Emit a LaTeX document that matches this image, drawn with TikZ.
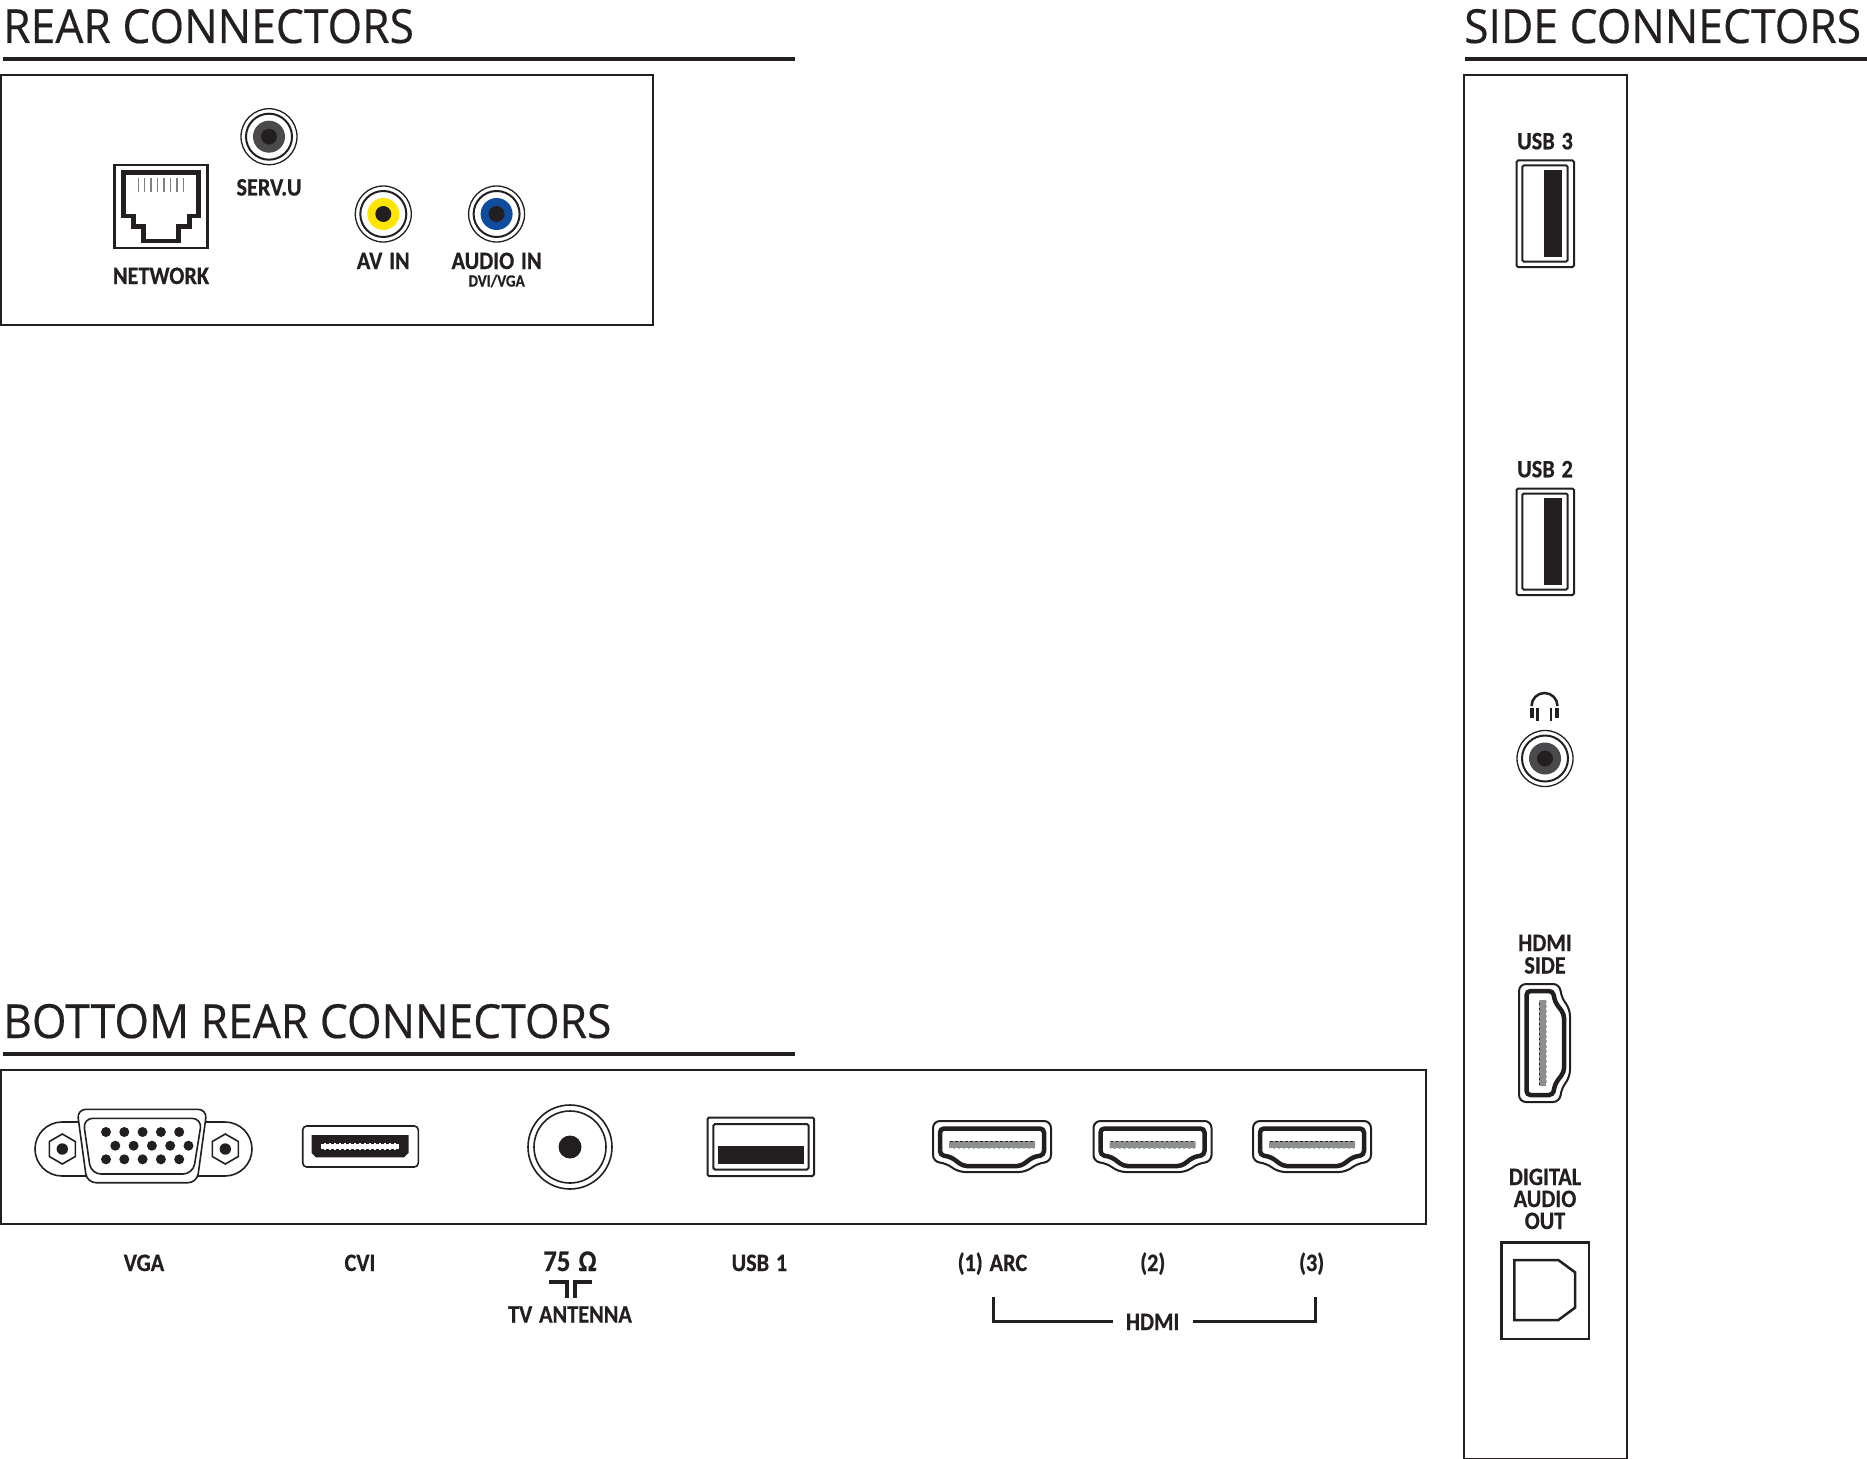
\documentclass[tikz,border=0pt]{standalone}
\usepackage{fontspec}
\setmainfont{Liberation Sans}
\newfontfamily\headfont[FakeStretch=0.945,FakeBold=0.4]{Open Sans}
\newfontfamily\labelfont[FakeStretch=0.89,WordSpace=1.35,FakeBold=0.6]{Carlito}
\definecolor{conblack}{HTML}{231F20}
\definecolor{jackgrey}{HTML}{4A4A4C}
\definecolor{jackyellow}{HTML}{FFE600}
\definecolor{jackblue}{HTML}{0F4C9E}
\definecolor{stripgrey}{HTML}{8C8F8F}
\tikzset{
    heading/.style={font=\headfont\fontsize{47}{47}\selectfont, text=conblack, inner sep=0pt, anchor=base west},
    conlabel/.style={font=\labelfont\bfseries\fontsize{25}{25}\selectfont, text=conblack, inner sep=0pt, anchor=base},
    sublabel/.style={font=\labelfont\bfseries\fontsize{17}{17}\selectfont, text=conblack, inner sep=0pt, anchor=base},
    panel/.style={draw=conblack, line width=2pt},
    thinline/.style={draw=conblack, line width=1.6pt},
    thickline/.style={draw=conblack, line width=3.5pt},
    hdmiport/.pic={
        \draw[thinline, line width=2pt, rounded corners=7pt] (-59,0) -- (59,0) -- (59,41) -- (46,42) -- (34,51) -- (-34,51) -- (-46,42) -- (-59,41) -- cycle;
        \draw[thickline, line width=4.5pt, rounded corners=4pt] (-52,7.5) -- (52,7.5) -- (52,34) -- (41,36) -- (29,45) -- (-29,45) -- (-41,36) -- (-52,34) -- cycle;
        \fill[stripgrey, rounded corners=1pt] (-43,20) rectangle (43,27.7);
        \draw[conblack, line width=1pt, dash pattern=on 2.5pt off 2.5pt] (-42,20) -- (42,20);
        \draw[white, line width=1.2pt, dash pattern=on 2.5pt off 2.5pt] (-42,27.7) -- (42,27.7);
    }
}
\begin{document}
\begin{tikzpicture}[x=1pt, y=-1pt]
    \useasboundingbox (0,0) rectangle (1867,1458);

    % headings
    \node[heading] (rearhead) at (3,43) {REAR CONNECTORS};
    \node[heading] (sidehead) at (1464,43) {SIDE CONNECTORS};
    \node[heading] (bottomhead) at (3,1038) {BOTTOM REAR CONNECTORS};
    \draw[thickline, line width=4pt] (3,59) -- (795,59);
    \draw[thickline, line width=4pt] (1465,59) -- (1867,59);
    \draw[thickline, line width=4pt] (3,1054) -- (795,1054);

    % panels
    \draw[panel] (1,75) rectangle (653,324.5);
    \draw[panel] (1,1070) rectangle (1426,1223.5);
    \draw[panel] (1463.5,75) rectangle (1627,1459);

    % round jacks
    \foreach \cx/\cy/\cc in {269/136.7/jackgrey, 383.3/214/jackyellow, 496.6/214/jackblue, 1545/758.5/jackgrey} {
        \draw[thinline, line width=1.3pt] (\cx,\cy) circle (28);
        \draw[thinline, line width=2pt] (\cx,\cy) circle (23);
        \fill[\cc] (\cx,\cy) circle (16);
        \fill[conblack] (\cx,\cy) circle (8);
    }

    % network socket
    \draw[thinline, line width=2.5pt] (114.5,165) rectangle (207.5,248);
    \draw[thickline, line width=4.5pt] (123.3,172.3) -- (198.3,172.3) -- (198.3,216) -- (189.3,216) -- (189.3,226.7) -- (178.3,226.7) -- (178.3,241) -- (143.3,241) -- (143.3,226.7) -- (133.3,226.7) -- (133.3,216) -- (123.3,216) -- cycle;
    \foreach \i in {0,...,7} {
        \draw[gray, line width=1.5pt] (138.3+\i*6.43,177.7) -- (138.3+\i*6.43,191.7);
    }

    \node[conlabel] (network) at (161,284) {NETWORK};
    \node[conlabel] (servu) at (269,195.5) {SERV.U};
    \node[conlabel] (avin) at (383.3,269) {AV IN};
    \node[conlabel] (audioin) at (496.6,269) {AUDIO IN};
    \node[sublabel] (dvivga) at (496.6,286.5) {DVI/VGA};

    % vga
    \draw[thinline] (78,1122) -- (62,1122) arc[start angle=-90, end angle=-270, radius=27] -- (88,1176);
    \draw[thinline] (206,1122) -- (225,1122) arc[start angle=-90, end angle=90, radius=27] -- (197,1176);
    \draw[thinline, fill=white, rounded corners=9pt] (77,1109.3) -- (207,1109.3) -- (197,1182.7) -- (87,1182.7) -- cycle;
    \draw[thinline, rounded corners=10pt] (83,1118.3) -- (202,1118.3) -- (193,1174) -- (91,1174) -- cycle;
    \foreach \hx in {62.3,225.3} {
        \draw[thinline] (\hx,1134) -- (\hx+13,1141.5) -- (\hx+13,1156.5) -- (\hx,1164) -- (\hx-13,1156.5) -- (\hx-13,1141.5) -- cycle;
        \fill[conblack] (\hx,1149) circle (5.7);
    }
    \foreach \i in {0,...,4} {
        \fill[conblack] (106+\i*18.3,1132) circle (5);
        \fill[conblack] (115.3+\i*18.3,1145.7) circle (5);
        \fill[conblack] (106+\i*18.3,1159.3) circle (5);
    }

    % cvi
    \draw[thinline, rounded corners=4pt] (302.7,1126) rectangle (418.3,1167);
    \fill[conblack] (311.6,1135) -- (408.5,1135) -- (408.5,1153) -- (404,1157.3) -- (316,1157.3) -- (311.6,1153) -- cycle;
    \fill[white] (321.4,1142.7) rectangle (398.7,1150);
    \draw[conblack, line width=1pt, dash pattern=on 2.5pt off 2.5pt] (321.4,1143.2) -- (398.7,1143.2);
    \draw[conblack, line width=1pt, dash pattern=on 2.5pt off 2.5pt] (321.4,1149.5) -- (398.7,1149.5);

    % antenna
    \draw[thinline] (570,1147) circle (42);
    \draw[thinline] (570,1147) circle (36);
    \fill[conblack] (570,1147) circle (11.5);

    % usb 1
    \draw[thinline, line width=2pt, rounded corners=1.5pt] (707.5,1117.5) rectangle (814,1176);
    \draw[thinline, line width=2pt, rounded corners=1.5pt] (713.4,1124) rectangle (808.5,1169.5);
    \fill[conblack] (717.9,1145.5) rectangle (804,1163.8);

    % hdmi row
    \foreach \cx in {992,1152.5,1312} {
        \pic at (\cx,1121) {hdmiport};
    }

    \node[conlabel] (vga) at (144,1271) {VGA};
    \node[conlabel] (cvi) at (360,1271) {CVI};
    \node[conlabel, font=\labelfont\bfseries\fontsize{30}{30}\selectfont] (ohm) at (570,1271) {75 Ω};
    \node[conlabel] (tvantenna) at (570,1322.5) {TV ANTENNA};
    \node[conlabel] (usbone) at (759.4,1271) {USB 1};
    \node[conlabel] (hdmione) at (992.4,1271) {(1) ARC};
    \node[conlabel] (hdmitwo) at (1152.7,1271) {(2)};
    \node[conlabel] (hdmithree) at (1311.6,1271) {(3)};

    % antenna symbol under the ohm label
    \draw[thickline, line width=4pt] (549,1282) -- (566.5,1282) -- (566.5,1298);
    \draw[thickline, line width=4pt] (592,1282) -- (574.5,1282) -- (574.5,1298);

    % hdmi bracket
    \node[conlabel, inner xsep=13pt] (hdmigroup) at (1152.7,1330) {HDMI};
    \coordinate (bracketleft) at (993,1296.7);
    \coordinate (bracketright) at (1315,1296.7);
    \draw[thinline, line width=3pt] (hdmigroup.west) -| (bracketleft);
    \draw[thinline, line width=3pt] (hdmigroup.east) -| (bracketright);

    % side usb
    \foreach \dy/\name in {0/3,328/2} {
        \node[conlabel] (usb\name) at (1545,149.3+\dy) {USB \name};
        \draw[thinline, line width=2pt, rounded corners=1.5pt] (1516.5,160.5+\dy) rectangle (1574,267+\dy);
        \draw[thinline, line width=2pt, rounded corners=1.5pt] (1522.3,165.5+\dy) rectangle (1567.7,261.5+\dy);
        \fill[conblack] (1544,170+\dy) rectangle (1562.3,256.7+\dy);
    }

    % headphones
    \draw[thinline, line width=2.5pt] (1531.5,706) arc[start angle=180, end angle=360, radius=13];
    \fill[conblack] (1530.3,708.3) rectangle (1534.3,718.3);
    \fill[conblack] (1555.3,708.3) rectangle (1559.3,718.3);
    \draw[thinline, line width=2.5pt] (1537.5,708) -- (1537.5,720.7);
    \draw[thinline, line width=2.5pt] (1551,708) -- (1551,720.7);

    % side hdmi
    \node[conlabel] (hdmiside) at (1545,951) {HDMI};
    \node[conlabel] (sidelabel) at (1545,973.5) {SIDE};
    \pic[rotate=90] at (1519,1043) {hdmiport};

    % digital audio
    \node[conlabel] (digital) at (1545,1185) {DIGITAL};
    \node[conlabel] (audio) at (1545,1207) {AUDIO};
    \node[conlabel] (out) at (1545,1229) {OUT};
    \draw[thickline, line width=2.5pt] (1501.5,1242.5) rectangle (1589,1339);
    \draw[thinline, line width=2.5pt] (1514.3,1260) -- (1558.3,1260) -- (1575,1272.3) -- (1575,1307.7) -- (1558.3,1320) -- (1514.3,1320) -- cycle;
\end{tikzpicture}
\end{document}
